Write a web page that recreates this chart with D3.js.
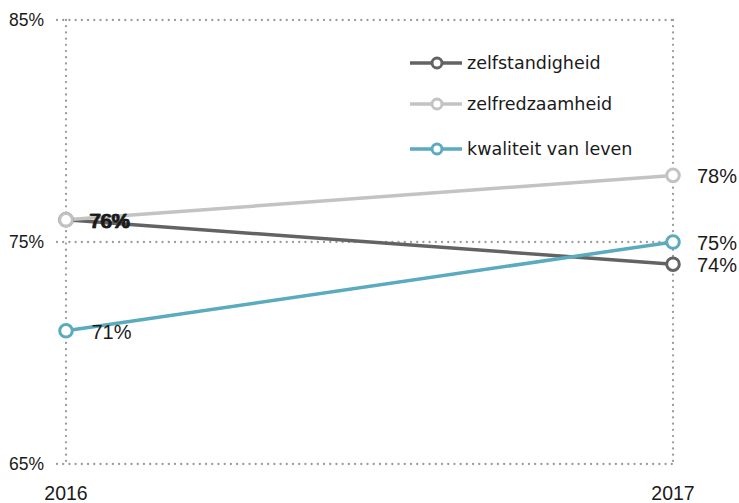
<!DOCTYPE html>
<html>
<head>
<meta charset="utf-8">
<script src="https://cdn.jsdelivr.net/npm/d3@7"></script>
<style>
  html, body { margin: 0; padding: 0; background: #fff; }
  svg { display: block; }
  .num { font-family: "Liberation Sans", Arial, sans-serif; }
  .lbl { font-family: "DejaVu Sans", Verdana, sans-serif; }
</style>
</head>
<body>
<svg id="chart" width="739" height="503"></svg>
<script>
// Years on the x axis
const years = [2016, 2017];
// Series names and their colours
const seriesNames = ["zelfstandigheid", "zelfredzaamheid", "kwaliteit van leven"];
const seriesColors = ["#636363", "#c3c3c3", "#5aabbf"];
// Values per series, in percent, one per year
const zelfstandigheid = [76, 74];
const zelfredzaamheid = [76, 78];
const kwaliteitVanLeven = [71, 75];
// Y axis ticks
const yTicks = [65, 75, 85];

const seriesValues = [zelfstandigheid, zelfredzaamheid, kwaliteitVanLeven];

const svg = d3.select("#chart");
const x = d3.scalePoint().domain(years).range([66, 673]);
const y = d3.scaleLinear().domain([65, 85]).range([464, 20]);

const gridColor = "#9a9a9a";
const textColor = "#1a1a1a";

// Horizontal dotted gridlines
svg.append("g").selectAll("line").data(yTicks).join("line")
  .attr("x1", 57).attr("x2", 673)
  .attr("y1", d => y(d)).attr("y2", d => y(d))
  .attr("stroke", gridColor).attr("stroke-width", 2.3)
  .attr("stroke-dasharray", "0.01 6.2").attr("stroke-linecap", "round");

// Vertical dotted gridlines at each year
svg.append("g").selectAll("line").data(years).join("line")
  .attr("x1", d => x(d)).attr("x2", d => x(d))
  .attr("y1", y(85)).attr("y2", y(65))
  .attr("stroke", gridColor).attr("stroke-width", 2.3)
  .attr("stroke-dasharray", "0.01 6.2").attr("stroke-linecap", "round");

// Y tick labels
svg.append("g").selectAll("text").data(yTicks).join("text")
  .attr("class", "num")
  .attr("x", 44).attr("y", d => y(d))
  .attr("text-anchor", "end").attr("dominant-baseline", "central")
  .attr("font-size", 17.5).attr("fill", textColor)
  .text(d => d + "%");

// X tick labels
svg.append("g").selectAll("text").data(years).join("text")
  .attr("class", "num")
  .attr("x", d => x(d)).attr("y", 493)
  .attr("text-anchor", "middle").attr("dominant-baseline", "central")
  .attr("font-size", 19.5).attr("fill", textColor)
  .text(d => d);

const line = d3.line().x((d, i) => x(years[i])).y(d => y(d));

// Lines and markers, in series order
seriesValues.forEach((vals, s) => {
  svg.append("path").datum(vals)
    .attr("d", line).attr("fill", "none")
    .attr("stroke", seriesColors[s]).attr("stroke-width", 3.5);
});
seriesValues.forEach((vals, s) => {
  svg.append("g").selectAll("circle").data(vals).join("circle")
    .attr("cx", (d, i) => x(years[i])).attr("cy", d => y(d)).attr("r", 6.3)
    .attr("fill", "#fff").attr("stroke", seriesColors[s]).attr("stroke-width", 3);
});

// Value labels; the two 76% labels at 2016 fall on top of each other
seriesValues.forEach((vals, s) => {
  svg.append("g").selectAll("text").data(vals).join("text")
    .attr("class", "num")
    .attr("x", (d, i) => x(years[i]) + (i === 0 ? 23 + s * 1.2 : 24))
    .attr("y", d => y(d) + 1)
    .attr("dominant-baseline", "central")
    .attr("font-size", 20).attr("fill", textColor)
    .attr("stroke", (d, i) => (i === 0 && s < 2) ? textColor : "none")
    .attr("stroke-width", 0.6)
    .text(d => d + "%");
});

// Legend
const legend = svg.append("g");
const legendY = [63, 104, 149];
seriesNames.forEach((name, s) => {
  const g = legend.append("g").attr("transform", `translate(0,${legendY[s]})`);
  g.append("line").attr("x1", 410).attr("x2", 462).attr("y1", 0).attr("y2", 0)
    .attr("stroke", seriesColors[s]).attr("stroke-width", 3.5);
  g.append("circle").attr("cx", 437).attr("cy", 0).attr("r", 5)
    .attr("fill", "#fff").attr("stroke", seriesColors[s]).attr("stroke-width", 3);
  g.append("text").attr("class", "lbl").attr("x", 467).attr("y", 0)
    .attr("dominant-baseline", "central").attr("font-size", 17.5).attr("fill", textColor)
    .text(name);
});
</script>
</body>
</html>
